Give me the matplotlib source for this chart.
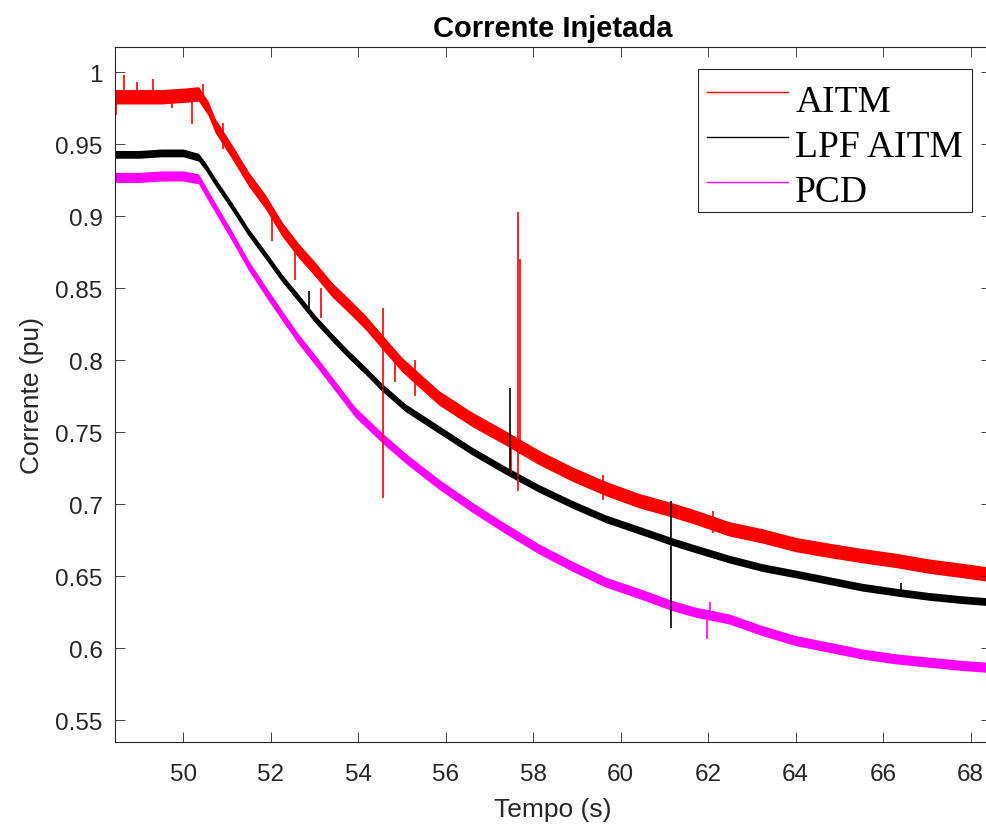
import matplotlib

matplotlib.use("Agg")
import matplotlib.pyplot as plt
from matplotlib.lines import Line2D

# ---- data (time in s, current in pu) ----
aitm_t = [48.44, 49.0, 49.5, 50.0, 50.35, 50.57, 50.73, 51.11, 51.49, 51.88, 52.26,
          52.64, 53.02, 53.40, 53.78, 54.16, 54.54, 55.0, 55.4, 55.84, 56.6, 57.37,
          58.13, 58.89, 59.65, 60.42, 61.18, 61.71, 62.47, 63.24, 64.0, 64.76, 65.52,
          66.29, 67.05, 67.81, 68.46]
aitm_i = [0.983, 0.983, 0.983, 0.984, 0.985, 0.975, 0.963, 0.945, 0.926, 0.910, 0.891,
          0.876, 0.863, 0.849, 0.838, 0.8265, 0.813, 0.797, 0.786, 0.774, 0.759, 0.746,
          0.7325, 0.721, 0.711, 0.7025, 0.696, 0.691, 0.683, 0.678, 0.672, 0.668, 0.6643,
          0.661, 0.657, 0.654, 0.6512]

lpf_t = [48.44, 49.0, 49.5, 50.0, 50.35, 50.5, 50.73, 51.11, 51.49, 51.88, 52.26,
         52.64, 53.02, 53.40, 53.78, 54.16, 54.55, 55.08, 55.84, 56.6, 57.37, 58.13,
         58.89, 59.65, 60.42, 61.18, 61.71, 62.47, 63.24, 64.0, 64.76, 65.52, 66.29,
         67.05, 67.81, 68.46]
lpf_i = [0.943, 0.943, 0.944, 0.944, 0.941, 0.935, 0.924, 0.907, 0.889, 0.873, 0.857,
         0.843, 0.8285, 0.816, 0.804, 0.793, 0.781, 0.767, 0.752, 0.737, 0.7235, 0.711,
         0.700, 0.690, 0.682, 0.674, 0.669, 0.662, 0.656, 0.6516, 0.647, 0.6424, 0.639,
         0.636, 0.6337, 0.6322]

pcd_t = [48.44, 49.0, 49.5, 50.0, 50.35, 50.5, 50.73, 51.11, 51.49, 51.88, 52.26,
         52.64, 53.02, 53.40, 53.93, 54.55, 55.08, 55.84, 56.6, 57.37, 58.13, 58.89,
         59.65, 60.42, 61.18, 61.71, 62.47, 63.24, 64.0, 64.76, 65.52, 66.29, 67.05,
         67.81, 68.46]
pcd_i = [0.927, 0.927, 0.928, 0.928, 0.926, 0.918, 0.906, 0.8865, 0.866, 0.848, 0.831,
         0.8146, 0.800, 0.785, 0.764, 0.746, 0.732, 0.714, 0.698, 0.683, 0.669, 0.657,
         0.646, 0.638, 0.6296, 0.625, 0.6204, 0.6122, 0.6053, 0.6007, 0.596, 0.5926,
         0.5903, 0.588, 0.5866]

# spikes: time, low, high
aitm_spk_t = [48.46, 48.65, 48.95, 49.3, 49.75, 50.2, 50.45, 50.9, 52.03, 52.56, 53.16,
              54.57, 54.85, 55.3, 57.5, 57.66, 57.70, 59.6, 62.1]
aitm_spk_lo = [0.970, 0.983, 0.983, 0.983, 0.975, 0.964, 0.980, 0.947, 0.883, 0.856, 0.829,
               0.704, 0.785, 0.775, 0.722, 0.7095, 0.735, 0.703, 0.680]
aitm_spk_hi = [0.983, 0.998, 0.993, 0.995, 0.984, 0.984, 0.992, 0.965, 0.905, 0.878, 0.850,
               0.836, 0.800, 0.800, 0.745, 0.903, 0.870, 0.720, 0.695]

lpf_spk_t = [52.88, 57.46, 61.15, 66.4]
lpf_spk_lo = [0.832, 0.720, 0.614, 0.638]
lpf_spk_hi = [0.848, 0.781, 0.7025, 0.645]

pcd_spk_t = [61.98, 62.05]
pcd_spk_lo = [0.6065, 0.620]
pcd_spk_hi = [0.624, 0.632]

names = ["AITM", "LPF AITM", "PCD"]
x_ticks = [50, 52, 54, 56, 58, 60, 62, 64, 66, 68]
y_ticks = [0.55, 0.6, 0.65, 0.7, 0.75, 0.8, 0.85, 0.9, 0.95, 1.0]
y_tick_labels = ["0.55", "0.6", "0.65", "0.7", "0.75", "0.8", "0.85", "0.9", "0.95", "1"]

AX_COLOR = "#262626"

fig = plt.figure(figsize=(9.87, 8.28), dpi=100)
# the right edge of the axes box sits just outside the saved image, as in the reference
ax = fig.add_axes([0.1165, 0.1027, 0.8871, 0.8394])

series = [
    (aitm_t, aitm_i, aitm_spk_t, aitm_spk_lo, aitm_spk_hi, "#ff0000", 0.0050),
    (lpf_t, lpf_i, lpf_spk_t, lpf_spk_lo, lpf_spk_hi, "#000000", 0.0027),
    (pcd_t, pcd_i, pcd_spk_t, pcd_spk_lo, pcd_spk_hi, "#ff00ff", 0.0035),
]
for t, i, st, slo, shi, color, hw in series:
    # noisy measurement drawn as a band around the trace
    ax.fill_between(t, [v - hw for v in i], [v + hw for v in i], color=color, lw=0)
    ax.plot(t, i, color=color, lw=0.8)
    ax.vlines(st, slo, shi, color=color, lw=1.2)

ax.set_xlim(48.44, 68.456)
ax.set_ylim(0.5349, 1.0176)
ax.set_xticks(x_ticks)
ax.set_yticks(y_ticks)
ax.set_yticklabels(y_tick_labels)

ax.tick_params(direction="in", top=True, right=True, length=7, width=0.6,
               colors=AX_COLOR, labelsize=17.5)
ax.tick_params(axis="y", pad=9)
ax.tick_params(axis="x", pad=15)
for lab in ax.get_xticklabels() + ax.get_yticklabels():
    lab.set_family("Liberation Sans")
for sp in ax.spines.values():
    sp.set_color(AX_COLOR)
    sp.set_linewidth(0.8)

ax.set_xlabel("Tempo (s)", fontsize=19, family="Liberation Sans", color=AX_COLOR, labelpad=9)
ax.set_ylabel("Corrente (pu)", fontsize=19, family="Liberation Sans", color=AX_COLOR, labelpad=8)
ax.set_title("Corrente Injetada", fontsize=21, fontweight="bold", family="Liberation Sans", pad=8)

handles = [Line2D([], [], color=s[5], lw=1) for s in series]
leg = ax.legend(handles, names, loc="upper right", bbox_to_anchor=(0.9793, 0.968),
                borderaxespad=0, prop={"family": "Liberation Serif", "size": 27},
                frameon=True, fancybox=False, edgecolor=AX_COLOR, framealpha=1,
                handlelength=2.15, handletextpad=0.19, labelspacing=0.28, borderpad=0.25)
leg.get_frame().set_linewidth(0.8)
# MATLAB centres the rows a little lower inside the box
for txt in leg.get_texts():
    txt.set_y(-6)

fig.savefig("out.png", dpi=100)
